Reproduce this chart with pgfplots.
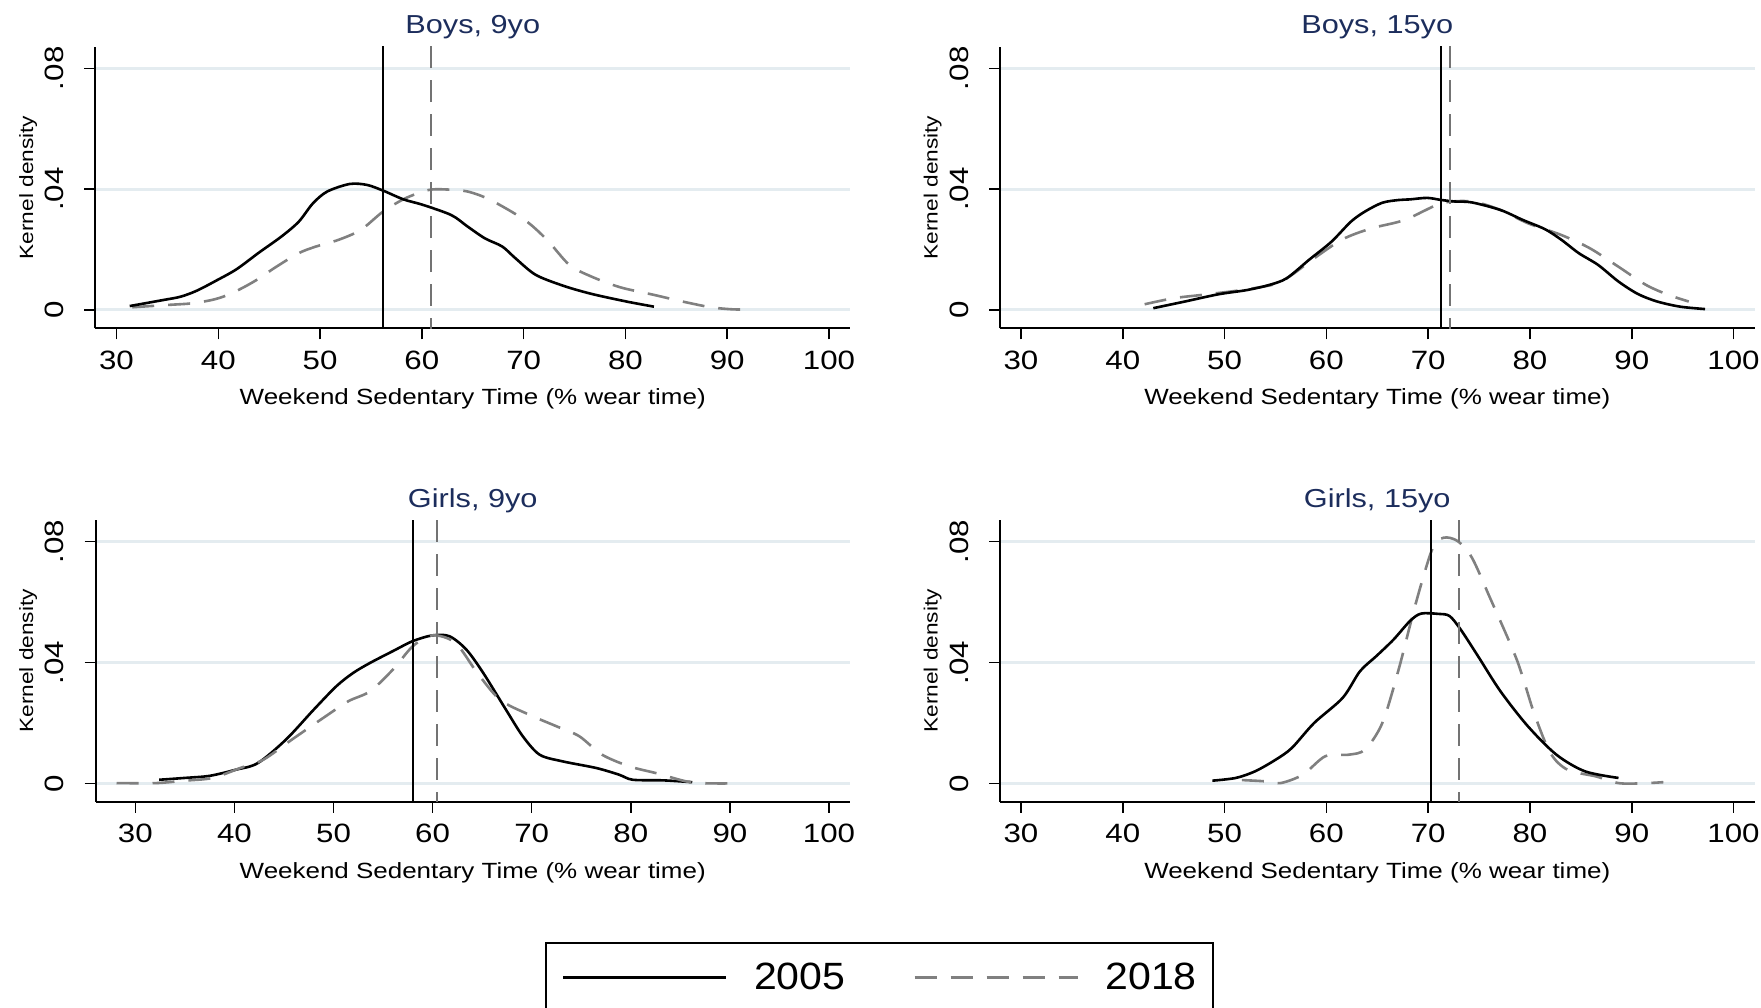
\documentclass[border=0pt]{standalone}
\usepackage{fontspec}
\setmainfont{Liberation Sans}[FakeStretch=1.18]
\newfontfamily\legfont{Liberation Sans}[FakeStretch=1.08]
\usepackage{pgfplots}
\pgfplotsset{compat=1.18}

\definecolor{gridc}{RGB}{228,236,240}
\definecolor{ttl}{RGB}{28,45,92}
\definecolor{gr18}{RGB}{128,128,128}

\pgfplotsset{
  kd/.style={
    scale only axis, width=377.25pt, height=140.8pt,
    axis lines=left, axis line style={-, line width=1pt, black},
    ymin=-0.00606, ymax=0.08715,
    xtick={30,40,...,100}, ytick={0,0.04,0.08}, yticklabels={0,.04,.08},
    scaled y ticks=false,
    tick align=outside, major tick length=5.5pt,
    tick style={line width=0.75pt, black},
    ymajorgrids, grid style={line width=1.5pt, color=gridc},
    /pgf/number format/assume math mode=true,
    tick label style={font=\fontsize{13.25}{14}\selectfont, inner sep=0pt},
    x tick label style={anchor=base},
    xticklabel shift=15pt,
    y tick label style={rotate=90, anchor=base},
    yticklabel shift=10.3pt,
    xlabel={Weekend Sedentary Time (\% wear time)},
    xlabel style={at={(axis description cs:0.5,0)}, anchor=base, yshift=-38.3pt,
      font=\fontsize{11}{13}\selectfont, inner sep=0pt},
    ylabel={Kernel density},
    ylabel style={at={(axis description cs:-0.0827,0.5)}, anchor=base, rotate=0,
      font=\fontsize{9.6}{11}\selectfont, inner sep=0pt},
    title style={at={(axis description cs:0.5,1)}, anchor=base, yshift=0.4pt,
      font=\fontsize{13}{15}\selectfont, text=ttl, inner sep=0pt},
    clip=true,
  },
  y05/.style={black, line width=1.3pt, smooth, tension=0.5},
  y18/.style={gr18, line width=1.3pt, dash pattern=on 11pt off 7pt, smooth, tension=0.5},
  m05/.style={black, line width=1pt, forget plot},
  m18/.style={gr18!90!black, line width=1pt, dash pattern=on 11pt off 6pt, forget plot},
}

\begin{document}
\begin{tikzpicture}

% ---------------- Boys, 9yo ----------------
\begin{axis}[kd, at={(47.75pt,339.35pt)}, anchor=south west,
  xmin=27.94, xmax=102.06, title={Boys, 9yo}]
\addplot[y18] coordinates {
 (31.55,0.0009) (35.2,0.0017) (37.4,0.0022) (39.6,0.0035) (41.3,0.0055)
 (43.5,0.0094) (45.7,0.0143) (47.9,0.0188) (49.6,0.0210) (51.8,0.0232)
 (54.0,0.0265) (56.2,0.0326) (58.4,0.0370) (60.65,0.0397) (62.3,0.0399)
 (64.5,0.0392) (66.75,0.0364) (70.1,0.0298) (72.3,0.0232) (74.5,0.0149)
 (76.7,0.0110) (79.5,0.0075) (82.8,0.0050) (85.6,0.0028) (88.4,0.0009)
 (90.6,0.0002) (92.0,0.0002)};
\addplot[y05] coordinates {
 (31.3,0.0013) (34.6,0.0033) (36.3,0.0044) (37.9,0.0064) (39.9,0.0099)
 (41.8,0.0135) (44.0,0.0190) (46.2,0.0243) (47.9,0.0292) (49.3,0.0353)
 (50.7,0.0392) (52.9,0.0417) (54.6,0.0414) (56.2,0.0395) (58.2,0.0366)
 (60.1,0.0348) (62.9,0.0314) (64.5,0.0276) (66.2,0.0237) (67.9,0.0210)
 (69.2,0.0171) (71.2,0.0116) (74.0,0.0079) (76.7,0.0053) (80.1,0.0028)
 (82.8,0.0011)};
\addplot[m05] coordinates {(56.2,-0.01) (56.2,0.09)};
\addplot[m18] coordinates {(60.93,-0.01) (60.93,0.09)};
\end{axis}

% ---------------- Boys, 15yo ----------------
\begin{axis}[kd, at={(500pt,339.35pt)}, anchor=south west,
  xmin=27.94, xmax=102.06, title={Boys, 15yo}]
\addplot[y18] coordinates {
 (42.15,0.0019) (45.0,0.0039) (47.8,0.0050) (51.7,0.0066) (55.0,0.0086)
 (56.6,0.0116) (58.8,0.0171) (61.6,0.0234) (64.4,0.0270) (67.7,0.0298)
 (71.3,0.0353) (74.3,0.0359) (77.1,0.0331) (79.8,0.0287) (83.1,0.0248)
 (85.9,0.0204) (88.7,0.0143) (91.4,0.0083) (93.6,0.0050) (95.6,0.0028)};
\addplot[y05] coordinates {
 (43.0,0.0006) (46.1,0.0028) (49.4,0.0052) (52.2,0.0066) (54.4,0.0083)
 (56.1,0.0105) (58.3,0.0166) (60.5,0.0226) (62.4,0.0292) (63.8,0.0326)
 (65.5,0.0355) (67.1,0.0364) (68.2,0.0366) (69.9,0.0371) (71.3,0.0364)
 (72.65,0.0359) (74.3,0.0356) (77.1,0.0331) (79.3,0.0298) (81.5,0.0267)
 (83.1,0.0232) (84.8,0.0188) (86.7,0.0149) (88.7,0.0094) (90.6,0.0053)
 (92.5,0.0028) (94.75,0.0011) (97.2,0.0003)};
\addplot[m05] coordinates {(71.27,-0.01) (71.27,0.09)};
\addplot[m18] coordinates {(72.1,-0.01) (72.1,0.09)};
\end{axis}

% ---------------- Girls, 9yo ----------------
\begin{axis}[kd, at={(47.75pt,102.65pt)}, anchor=south west,
  xmin=25.98, xmax=102.12, title={Girls, 9yo},
  legend style={at={(0.5958,-0.4982)}, anchor=north west, draw=black,
    line width=1pt, inner xsep=8pt, inner ysep=10pt,
    font=\legfont\fontsize{19}{22}\selectfont,
    nodes={inner sep=0pt},
    /tikz/every odd column/.append style={column sep=13.25pt},
    /tikz/every even column/.append style={column sep=34pt}},
  legend columns=2, legend cell align=left,
  legend image code/.code={\draw[#1] (0pt,0pt) -- (81.5pt,0pt);}]
\addplot[y05] coordinates {
 (32.4,0.0012) (34.95,0.0018) (37.5,0.0025) (40.1,0.0045) (42.35,0.0067)
 (45.2,0.0145) (48.0,0.0244) (50.3,0.0322) (52.0,0.0366) (53.7,0.0399)
 (56.0,0.0438) (58.0,0.0471) (60.0,0.0490) (61.7,0.0487) (63.4,0.0443)
 (65.1,0.0366) (67.4,0.0244) (69.1,0.0156) (70.8,0.0095) (73.1,0.0073)
 (76.5,0.0051) (78.8,0.0029) (80.2,0.0012) (83.3,0.0010) (86.2,0.0004)};
\addlegendentry{2005}
\addplot[y18] coordinates {
 (28.1,0.0001) (32.1,0.0001) (34.95,0.0009) (37.8,0.0018) (40.6,0.0051)
 (42.9,0.0078) (45.8,0.0145) (49.2,0.0222) (51.5,0.0272) (53.7,0.0305)
 (56.0,0.0377) (58.0,0.0454) (60.0,0.0490) (62.3,0.0465) (64.5,0.0366)
 (66.8,0.0277) (69.7,0.0228) (72.5,0.0189) (74.8,0.0156) (77.1,0.0095)
 (79.9,0.0056) (82.8,0.0032) (86.2,0.0003) (90.2,0.0000)};
\addlegendentry{2018}
\addplot[m05] coordinates {(58.0,-0.01) (58.0,0.09)};
\addplot[m18] coordinates {(60.45,-0.01) (60.45,0.09)};
\end{axis}

% ---------------- Girls, 15yo ----------------
\begin{axis}[kd, at={(500pt,102.65pt)}, anchor=south west,
  xmin=27.94, xmax=102.06, title={Girls, 15yo}]
\addplot[y18] coordinates {
 (51.7,0.0011) (53.9,0.0007) (55.5,0.0001) (57.7,0.0029) (59.9,0.0090)
 (62.2,0.0095) (63.8,0.0112) (65.5,0.0200) (67.1,0.0377) (68.8,0.0598)
 (70.4,0.0775) (71.5,0.0813) (72.9,0.0802) (74.3,0.0747) (76.0,0.0620)
 (78.7,0.0410) (80.4,0.0233) (82.0,0.0101) (83.7,0.0045) (86.5,0.0023)
 (88.7,0.0001) (90.9,0.0000) (93.1,0.0004)};
\addplot[y05] coordinates {
 (48.8,0.0009) (51.1,0.0018) (53.0,0.0040) (55.0,0.0078) (56.6,0.0117)
 (58.8,0.0200) (61.6,0.0283) (63.3,0.0371) (64.9,0.0421) (66.6,0.0476)
 (68.2,0.0537) (69.3,0.0562) (71.0,0.0561) (72.1,0.0554) (73.2,0.0509)
 (74.9,0.0421) (77.1,0.0305) (79.8,0.0189) (82.6,0.0095) (85.4,0.0040)
 (88.7,0.0018)};
\addplot[m05] coordinates {(70.28,-0.01) (70.28,0.09)};
\addplot[m18] coordinates {(73.04,-0.01) (73.04,0.09)};
\end{axis}

\pgfresetboundingbox
\useasboundingbox (0pt,0pt) rectangle (880.5pt,503.5pt);
\end{tikzpicture}
\end{document}
